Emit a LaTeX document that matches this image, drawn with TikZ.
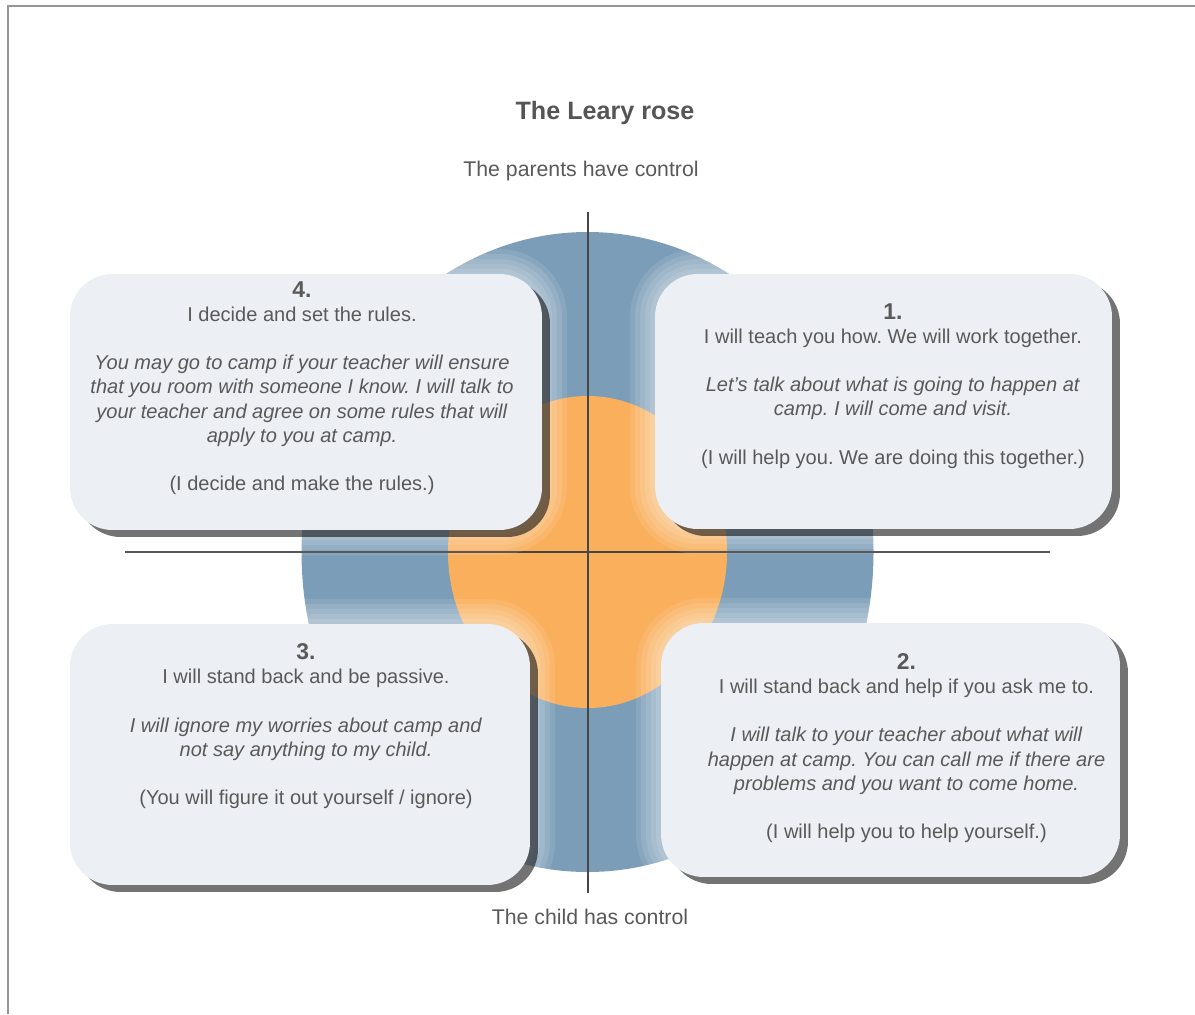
\documentclass[tikz,border=0pt]{standalone}
\usepackage{fontspec}
\setmainfont{Liberation Sans}
\usetikzlibrary{positioning,shadows}
\definecolor{rosegray}{RGB}{89,89,89}
\definecolor{roseblue}{RGB}{124,157,184}
\definecolor{roseorange}{RGB}{250,175,92}
\definecolor{cardfill}{RGB}{236,239,244}
\definecolor{framegray}{RGB}{150,150,150}
\definecolor{axisgray}{RGB}{70,70,70}
\frenchspacing

\begin{document}
\begin{tikzpicture}[
  x=0.02cm, y=-0.02cm,
  every node/.style={font=\fontsize{11.4}{13.7}\selectfont, text=rosegray},
  card/.style={fill=cardfill, rounded corners=0.85cm, inner sep=0pt,
    preaction={draw=white, line width=1.0cm, opacity=0.1},
    preaction={draw=white, line width=0.8cm, opacity=0.1},
    preaction={draw=white, line width=0.6cm, opacity=0.1},
    preaction={draw=white, line width=0.4cm, opacity=0.1},
    preaction={draw=white, line width=0.2cm, opacity=0.1},
    drop shadow={shadow xshift=0.16cm, shadow yshift=-0.14cm, fill=black, opacity=0.55}},
  cardtext/.style={align=center, inner sep=0pt},
  pole/.style={font=\fontsize{12.1}{14}\selectfont},
  axis/.style={draw=axisgray, line width=0.7pt}
]
  % frame and size
  \useasboundingbox (0,0) rectangle (1195,1014);
  \draw[framegray, line width=0.8pt] (8,1014) -- (8,6) -- (1195,6);

  % the rose
  \fill[roseblue] (587.5,552) ellipse [x radius=286, y radius=320];
  \fill[roseorange] (587.5,552) ellipse [x radius=139.5, y radius=156];

  % axes
  \coordinate (ntop) at (588,212);
  \coordinate (nbot) at (588,893);
  \coordinate (nleft) at (125,552);
  \coordinate (nright) at (1050,552);
  \draw[axis] (ntop) -- (nbot);
  \draw[axis] (nleft) -- (nright);

  \node[font=\bfseries\fontsize{14.3}{17}\selectfont, text={rgb,255:red,85;green,85;blue,85}] (title) at (605,113) {The Leary rose};
  \node[pole] (parents) at (581,171) {The parents have control};
  \node[pole] (child) at (590,917) {The child has control};

  % the four cards
  \node[card, minimum width=9.44cm, minimum height=5.12cm] (q4) at (306,402) {};
  \node[card, minimum width=9.14cm, minimum height=5.1cm] (q1) at (883.5,401.5) {};
  \node[card, minimum width=9.2cm, minimum height=5.22cm] (q3) at (300,754.5) {};
  \node[card, minimum width=9.18cm, minimum height=5.08cm] (q2) at (890.5,750) {};

  \node[cardtext, below=4.5pt of q4.north, xshift=-0.08cm] (t4) {%
    \textbf{\fontsize{13}{15}\selectfont 4.}\\
    I decide and set the rules.\\[13.7pt]
    \textit{You may go to camp if your teacher will ensure}\\
    \textit{that you room with someone I know. I will talk to}\\
    \textit{your teacher and agree on some rules that will}\\
    \textit{apply to you at camp.}\\[13.7pt]
    (I decide and make the rules.)};
  \node[cardtext, below=17pt of q1.north, xshift=0.19cm] (t1) {%
    \textbf{\fontsize{13}{15}\selectfont 1.}\\
    I will teach you how. We will work together.\\[13.7pt]
    \textit{Let’s talk about what is going to happen at}\\
    \textit{camp. I will come and visit.}\\[13.7pt]
    (I will help you. We are doing this together.)};
  \node[cardtext, below=11.3pt of q3.north, xshift=0.12cm] (t3) {%
    \textbf{\fontsize{13}{15}\selectfont 3.}\\
    I will stand back and be passive.\\[13.7pt]
    \textit{I will ignore my worries about camp and}\\
    \textit{not say anything to my child.}\\[13.7pt]
    (You will figure it out yourself / ignore)};
  \node[cardtext, below=17.5pt of q2.north, xshift=0.32cm] (t2) {%
    \textbf{\fontsize{13}{15}\selectfont 2.}\\
    I will stand back and help if you ask me to.\\[13.7pt]
    \textit{I will talk to your teacher about what will}\\
    \textit{happen at camp. You can call me if there are}\\
    \textit{problems and you want to come home.}\\[13.7pt]
    (I will help you to help yourself.)};
\end{tikzpicture}
\end{document}
